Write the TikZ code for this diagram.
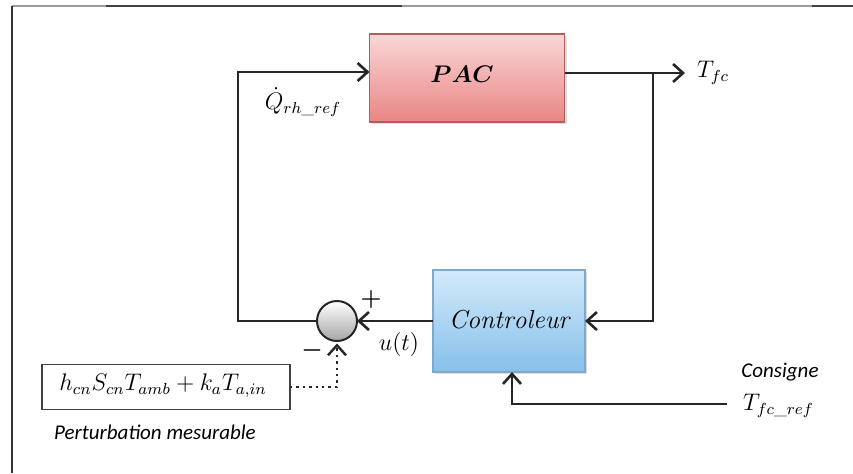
\documentclass[tikz,border=0pt]{standalone}
\usepackage{amsmath}
\usepackage{fontspec}
\newfontfamily\labelfont{Carlito}
\usetikzlibrary{arrows.meta,shadows}

\definecolor{pacTop}{HTML}{FAD6D6}
\definecolor{pacBot}{HTML}{E98585}
\definecolor{pacLine}{HTML}{B0605C}
\definecolor{ctlTop}{HTML}{D3EAFA}
\definecolor{ctlBot}{HTML}{86C0EA}
\definecolor{ctlLine}{HTML}{7FA9CC}
\definecolor{frameGray}{HTML}{9A9A9A}
\definecolor{wire}{HTML}{262626}

\begin{document}
\begin{tikzpicture}[x=0.5pt,y=-0.5pt,
  every node/.style={inner sep=0pt,outer sep=0pt},
  wireline/.style={draw=wire,line width=1.3pt},
  flow/.style={wireline,-{Straight Barb[length=5pt,width=9pt,line width=1.3pt]}},
  dotflow/.style={draw=wire,line width=1.2pt,dotted,-{Straight Barb[length=5pt,width=9pt,line width=1.2pt,sep]}},
  pacbox/.style={draw=pacLine,line width=0.8pt,top color=pacTop,bottom color=pacBot,
    minimum width=97.5pt,minimum height=44pt,drop shadow={opacity=0.25,shadow xshift=1.2pt,shadow yshift=-1.2pt}},
  ctlbox/.style={draw=ctlLine,line width=0.8pt,top color=ctlTop,bottom color=ctlBot,
    minimum width=76pt,minimum height=51pt,drop shadow={opacity=0.25,shadow xshift=1.2pt,shadow yshift=-1.2pt}},
  sumnode/.style={circle,draw=wire,line width=1pt,top color=white,bottom color=gray!70,minimum size=20pt},
  distbox/.style={draw=black!75,line width=0.6pt,fill=white,minimum width=124pt,minimum height=22.5pt},
  mathlbl/.style={font=\fontsize{12}{14}\selectfont},
  sidelbl/.style={font=\labelfont\itshape\fontsize{10.5}{12}\selectfont}
]
\useasboundingbox (0,0) rectangle (853,473);

% page frame
\draw[frameGray,line width=0.6pt] (12,6) -- (853,6);
\draw[black!75,line width=1.1pt] (106,6) -- (402,6) (812,6) -- (853,6);
\draw[black!80,line width=0.9pt] (12,6) -- (12,473);

% blocks
\node[pacbox] (pac) at (467,78) {};
\node[font=\fontsize{13}{15}\selectfont] (pactxt) at (462,74) {$\boldsymbol{PAC}$};
\node[ctlbox] (ctrl) at (509,321) {};
\node[font=\fontsize{13}{15}\selectfont] (ctltxt) at (509,320) {$\mathit{Controleur}$};
\node[sumnode] (sum) at (337,321) {};
\node[distbox] (dist) at (166,387) {};
\node[mathlbl] (disttxt) at (163,386) {$h_{cn}S_{cn}T_{amb}+k_aT_{a,in}$};

% labels
\node[mathlbl] (qlbl) at (303,102) {$\dot{Q}_{rh\_ref}$};
\node[mathlbl,anchor=west] (tfc) at (697,73) {$T_{fc}$};
\node[mathlbl] (ulbl) at (399,344) {$u(t)$};
\node[mathlbl] (plus) at (371,299) {$\boldsymbol{+}$};
\node[mathlbl] (minus) at (312,350) {$\boldsymbol{-}$};
\node[sidelbl] (cons) at (780,372) {Consigne};
\node[mathlbl,anchor=west] (tref) at (743,406) {$T_{fc\_ref}$};
\node[sidelbl] (distlbl) at (155,432) {Perturbation mesurable};

% junction points
\coordinate (split) at (653,73);
\coordinate (qcorner) at (238,72);
\coordinate (tfcend) at (685,73);
\coordinate (refin) at (727,404);
\coordinate (refup) at (512,404);

% signal lines
\draw[flow] (pac.east |- split) -- (tfcend);
\draw[flow] (split) |- (ctrl.east);
\draw[flow] (ctrl.west) -- (sum.east);
\draw[flow] (sum.west) -| (qcorner) -- (pac.west |- qcorner);
\draw[flow] (refin) -- (refup) -- (refup |- ctrl.south);
\draw[dotflow] (dist.east) -| (sum.south);
\end{tikzpicture}
\end{document}
